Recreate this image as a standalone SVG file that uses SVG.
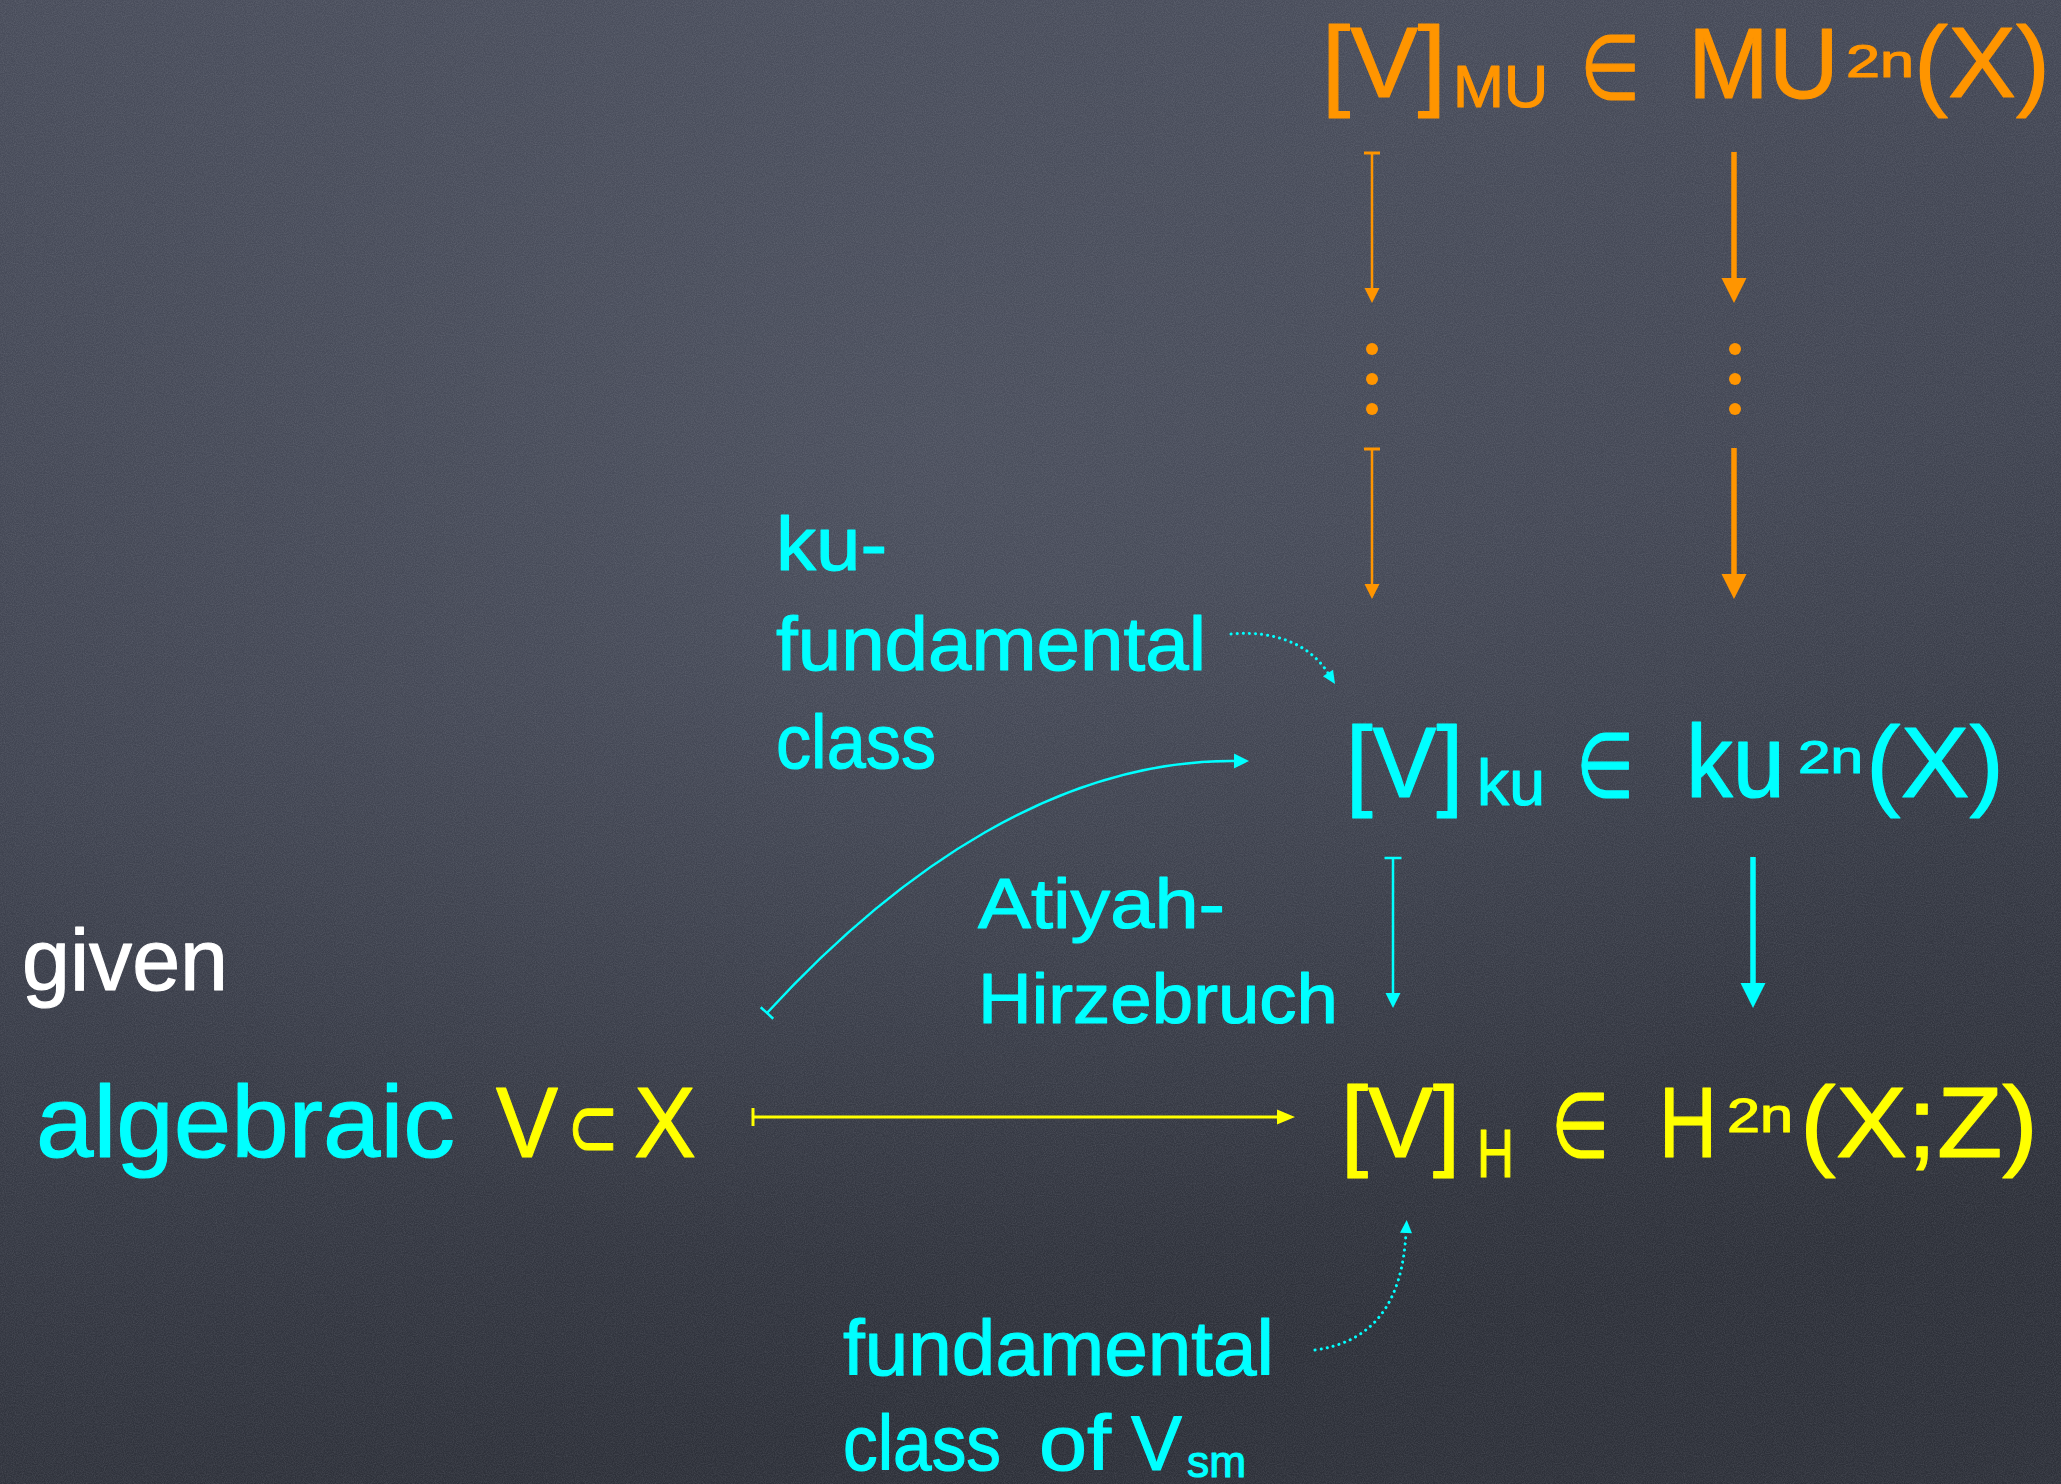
<svg xmlns="http://www.w3.org/2000/svg" width="2061" height="1484" viewBox="0 0 2061 1484">
<style>
.t{font-family:"Liberation Sans",Arial,sans-serif;stroke-width:1.2;stroke-linejoin:round}
.m{font-family:"DejaVu Sans","Liberation Sans",sans-serif}
.o{fill:#ff9500;stroke:#ff9500}
.c{fill:#00ffff;stroke:#00ffff}
.y{fill:#ffff00;stroke:#ffff00}
.w{fill:#ffffff;stroke:#ffffff}
.so{stroke:#ff9500;fill:none}
.sc{stroke:#00ffff;fill:none}
.sy{stroke:#ffff00;fill:none}
.thin{stroke-width:2.5}
.thick{stroke-width:5.5}
.dot{stroke-width:3;stroke-dasharray:0.1 6;stroke-linecap:round}
</style>
<defs>
<linearGradient id="bg" x1="0" y1="0" x2="0.25" y2="1">
<stop offset="0" stop-color="#484c5a"/>
<stop offset="0.5" stop-color="#3f4350"/>
<stop offset="1" stop-color="#2d3039"/>
</linearGradient>
<radialGradient id="glow" cx="0.45" cy="0.3" r="0.55">
<stop offset="0" stop-color="#5a5f6e" stop-opacity="0.4"/>
<stop offset="1" stop-color="#5a5f6e" stop-opacity="0"/>
</radialGradient>
<filter id="chalk" x="0" y="0" width="100%" height="100%">
<feTurbulence type="fractalNoise" baseFrequency="0.9" numOctaves="2" seed="3" result="n"/>
<feColorMatrix in="n" type="matrix" values="0 0 0 0 0.8  0 0 0 0 0.82  0 0 0 0 0.9  0 0 0 0.5 -0.15"/>
</filter>
<marker id="ahOs" markerUnits="userSpaceOnUse" markerWidth="20" markerHeight="20" refX="0" refY="7.5" orient="auto" overflow="visible"><path d="M0,0 L15,7.5 L0,15 Z" fill="#ff9500"/></marker>
<marker id="ahOb" markerUnits="userSpaceOnUse" markerWidth="30" markerHeight="30" refX="0" refY="12.5" orient="auto" overflow="visible"><path d="M0,0 L25,12.5 L0,25 Z" fill="#ff9500"/></marker>
<marker id="ahCs" markerUnits="userSpaceOnUse" markerWidth="20" markerHeight="20" refX="0" refY="7.5" orient="auto" overflow="visible"><path d="M0,0 L15,7.5 L0,15 Z" fill="#00ffff"/></marker>
<marker id="ahCb" markerUnits="userSpaceOnUse" markerWidth="30" markerHeight="30" refX="0" refY="12.5" orient="auto" overflow="visible"><path d="M0,0 L25,12.5 L0,25 Z" fill="#00ffff"/></marker>
<marker id="ahCd" markerUnits="userSpaceOnUse" markerWidth="16" markerHeight="16" refX="0" refY="6" orient="auto" overflow="visible"><path d="M0,0 L13,6 L0,12 Z" fill="#00ffff"/></marker>
<marker id="ahY" markerUnits="userSpaceOnUse" markerWidth="20" markerHeight="20" refX="0" refY="7.5" orient="auto" overflow="visible"><path d="M0,0 L18,7.5 L0,15 Z" fill="#ffff00"/></marker>
<marker id="tkO" markerUnits="userSpaceOnUse" markerWidth="4" markerHeight="20" refX="0" refY="0" orient="auto" overflow="visible"><path d="M0,-8 L0,8" stroke="#ff9500" stroke-width="3"/></marker>
<marker id="tkC" markerUnits="userSpaceOnUse" markerWidth="4" markerHeight="20" refX="0" refY="0" orient="auto" overflow="visible"><path d="M0,-8.5 L0,8.5" stroke="#00ffff" stroke-width="2.5"/></marker>
<marker id="tkY" markerUnits="userSpaceOnUse" markerWidth="4" markerHeight="20" refX="0" refY="0" orient="auto" overflow="visible"><path d="M0,-9 L0,9" stroke="#ffff00" stroke-width="3"/></marker>
</defs>

<g id="background">
<rect width="2061" height="1484" fill="url(#bg)"/>
<rect width="2061" height="1484" fill="url(#glow)"/>
<rect width="2061" height="1484" filter="url(#chalk)" opacity="0.4"/>
</g>

<g id="node-mu" class="t o">
<text x="1322" y="97" font-size="100" textLength="124" lengthAdjust="spacingAndGlyphs">[V]</text>
<text x="1453" y="107" font-size="60" textLength="95" lengthAdjust="spacingAndGlyphs">MU</text>
<text class="m" x="1580" y="99" font-size="90" textLength="60" lengthAdjust="spacingAndGlyphs">∈</text>
<text x="1688" y="98" font-size="100" textLength="151" lengthAdjust="spacingAndGlyphs">MU</text>
<text x="1846" y="77" font-size="47" textLength="68" lengthAdjust="spacingAndGlyphs">2n</text>
<text x="1914" y="97" font-size="100" textLength="136" lengthAdjust="spacingAndGlyphs">(X)</text>
</g>

<g id="node-ku" class="t c">
<text x="1346" y="797" font-size="100" textLength="117" lengthAdjust="spacingAndGlyphs">[V]</text>
<text x="1477" y="805" font-size="64" textLength="68" lengthAdjust="spacingAndGlyphs">ku</text>
<text class="m" x="1576" y="797" font-size="90" textLength="58" lengthAdjust="spacingAndGlyphs">∈</text>
<text x="1686" y="797" font-size="104" textLength="99" lengthAdjust="spacingAndGlyphs">ku</text>
<text x="1798" y="773" font-size="46" textLength="65" lengthAdjust="spacingAndGlyphs">2n</text>
<text x="1866" y="797" font-size="100" textLength="138" lengthAdjust="spacingAndGlyphs">(X)</text>
</g>

<g id="node-h" class="t y">
<text x="1341" y="1157" font-size="100" textLength="119" lengthAdjust="spacingAndGlyphs">[V]</text>
<text x="1477" y="1177" font-size="68" textLength="37" lengthAdjust="spacingAndGlyphs">H</text>
<text class="m" x="1551" y="1157" font-size="90" textLength="58" lengthAdjust="spacingAndGlyphs">∈</text>
<text x="1659" y="1157" font-size="100" textLength="58" lengthAdjust="spacingAndGlyphs">H</text>
<text x="1727" y="1132" font-size="48" textLength="66" lengthAdjust="spacingAndGlyphs">2n</text>
<text x="1800" y="1157" font-size="100" textLength="238" lengthAdjust="spacingAndGlyphs">(X;Z)</text>
</g>

<g id="node-given" class="t w">
<text x="22" y="990" font-size="88" textLength="206" lengthAdjust="spacingAndGlyphs">given</text>
</g>

<g id="node-algebraic" class="t">
<text class="c" x="36" y="1157" font-size="102" textLength="419" lengthAdjust="spacingAndGlyphs">algebraic</text>
<text class="y" x="496" y="1157" font-size="100" textLength="62" lengthAdjust="spacingAndGlyphs">V</text>
<text class="m y" x="567" y="1157" font-size="88" textLength="52" lengthAdjust="spacingAndGlyphs">⊂</text>
<text class="y" x="634" y="1157" font-size="100" textLength="62" lengthAdjust="spacingAndGlyphs">X</text>
</g>

<g id="label-ku-fundamental" class="t c" font-size="76">
<text x="776" y="570" textLength="111" lengthAdjust="spacingAndGlyphs">ku-</text>
<text x="776" y="670" textLength="430" lengthAdjust="spacingAndGlyphs">fundamental</text>
<text x="776" y="768" textLength="160" lengthAdjust="spacingAndGlyphs">class</text>
</g>

<g id="label-atiyah-hirzebruch" class="t c" font-size="70">
<text x="978" y="928" textLength="247" lengthAdjust="spacingAndGlyphs">Atiyah-</text>
<text x="978" y="1023" textLength="360" lengthAdjust="spacingAndGlyphs">Hirzebruch</text>
</g>

<g id="label-fundamental-sm" class="t c" font-size="78">
<text x="843" y="1375" textLength="431" lengthAdjust="spacingAndGlyphs">fundamental</text>
<text x="843" y="1470" textLength="158" lengthAdjust="spacingAndGlyphs">class</text>
<text x="1039" y="1470" textLength="72" lengthAdjust="spacingAndGlyphs">of</text>
<text x="1131" y="1470" textLength="51" lengthAdjust="spacingAndGlyphs">V</text>
<text x="1187" y="1477" font-size="44" textLength="59" lengthAdjust="spacingAndGlyphs">sm</text>
</g>

<g id="connectors">
<path class="so thin" d="M1372,153 V288" marker-start="url(#tkO)" marker-end="url(#ahOs)"/>
<path class="so thin" d="M1372,449 V584" marker-start="url(#tkO)" marker-end="url(#ahOs)"/>
<path class="so thick" d="M1734,152 V278" marker-end="url(#ahOb)"/>
<path class="so thick" d="M1734,448 V574" marker-end="url(#ahOb)"/>
<g fill="#ff9500">
<circle cx="1372" cy="349" r="6"/><circle cx="1372" cy="379" r="6"/><circle cx="1372" cy="409" r="6"/>
<circle cx="1735" cy="349" r="6"/><circle cx="1735" cy="379" r="6"/><circle cx="1735" cy="409" r="6"/>
</g>
<path class="sc thin" d="M1393,858 V993" marker-start="url(#tkC)" marker-end="url(#ahCs)"/>
<path class="sc thick" d="M1753,857 V983" marker-end="url(#ahCb)"/>
<path class="sy" stroke-width="3" d="M753,1117 H1277" marker-start="url(#tkY)" marker-end="url(#ahY)"/>
<path class="sc thin" d="M767,1013 C900,868 1060,760 1234,761" marker-start="url(#tkC)" marker-end="url(#ahCs)"/>
<path class="sc dot" d="M1231,634 C1276,630 1310,645 1328,673" marker-end="url(#ahCd)"/>
<path class="sc dot" d="M1315,1350 C1372,1342 1402,1305 1406,1233" marker-end="url(#ahCd)"/>
</g>
</svg>
